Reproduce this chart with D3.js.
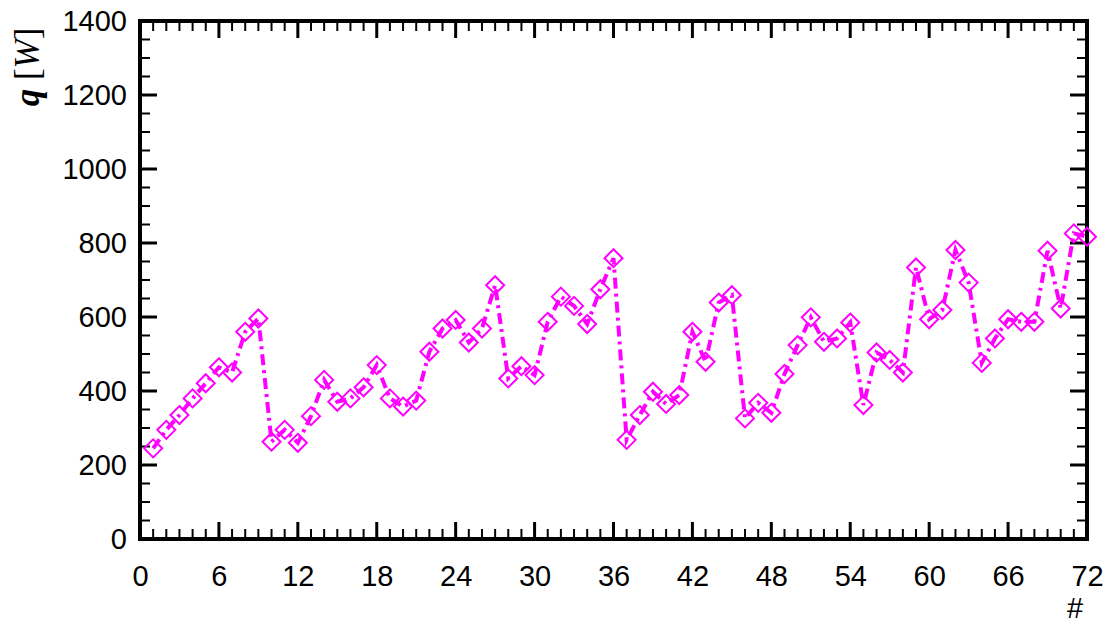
<!DOCTYPE html>
<html>
<head>
<meta charset="utf-8">
<script src="https://cdn.jsdelivr.net/npm/d3@7"></script>
<style>
  body { margin: 0; background: #fff; }
  svg { display: block; }
</style>
</head>
<body>
<div id="chart"></div>
<script>
// data
var runs = d3.range(1, 73);
var heat = [245, 295, 335, 380, 421, 464, 450, 560, 596, 263,
            295, 260, 332, 430, 371, 380, 410, 470, 380, 358,
            374, 506, 569, 592, 531, 569, 686, 434, 467, 443,
            587, 655, 630, 581, 675, 759, 268, 335, 398, 365,
            389, 560, 479, 639, 659, 326, 368, 341, 446, 524,
            599, 533, 542, 585, 362, 504, 484, 450, 734, 594,
            619, 781, 693, 476, 542, 594, 587, 587, 779, 623,
            826, 817];
var xTicks = [0, 6, 12, 18, 24, 30, 36, 42, 48, 54, 60, 66, 72];
var yTicks = [0, 200, 400, 600, 800, 1000, 1200, 1400];

var margin = {top: 21, right: 23, bottom: 87, left: 140},
    width = 1110 - margin.left - margin.right,
    height = 626 - margin.top - margin.bottom;

var svg = d3.select("#chart")
  .append("svg")
    .attr("width", 1110)
    .attr("height", 626)
  .append("g")
    .attr("transform", "translate(" + margin.left + "," + margin.top + ")");

var x = d3.scaleLinear().domain([0, 72]).range([0, width]);
var y = d3.scaleLinear().domain([0, 1400]).range([height, 0]);

var minorX = d3.range(0, 73, 1);
var minorY = d3.range(0, 1401, 50);
var big = 17, small = 10;

// ticks pointing inward on all four sides
var tg = svg.append("g").attr("stroke", "#000");
tg.selectAll(".xb").data(minorX).enter().append("line")
  .attr("x1", d => x(d)).attr("x2", d => x(d))
  .attr("y1", height).attr("y2", d => height - (d % 6 == 0 ? big : small))
  .attr("stroke-width", d => d % 6 == 0 ? 3 : 2);
tg.selectAll(".xt").data(minorX).enter().append("line")
  .attr("x1", d => x(d)).attr("x2", d => x(d))
  .attr("y1", 0).attr("y2", d => (d % 6 == 0 ? big : small))
  .attr("stroke-width", d => d % 6 == 0 ? 3 : 2);
tg.selectAll(".yl").data(minorY).enter().append("line")
  .attr("y1", d => y(d)).attr("y2", d => y(d))
  .attr("x1", 0).attr("x2", d => (d % 200 == 0 ? big : small))
  .attr("stroke-width", d => d % 200 == 0 ? 3 : 2);
tg.selectAll(".yr").data(minorY).enter().append("line")
  .attr("y1", d => y(d)).attr("y2", d => y(d))
  .attr("x1", width).attr("x2", d => width - (d % 200 == 0 ? big : small))
  .attr("stroke-width", d => d % 200 == 0 ? 3 : 2);

// frame
svg.append("rect")
  .attr("width", width).attr("height", height)
  .attr("fill", "none").attr("stroke", "#000").attr("stroke-width", 4);

// tick labels through the axis generators
var xAxis = svg.append("g")
  .attr("transform", "translate(0," + height + ")")
  .call(d3.axisBottom(x).tickValues(xTicks).tickFormat(d3.format("d")).tickSize(0).tickPadding(26));
var yAxis = svg.append("g")
  .call(d3.axisLeft(y).tickValues(yTicks).tickFormat(d3.format("d")).tickSize(0).tickPadding(13));
[xAxis, yAxis].forEach(function(a) {
  a.select(".domain").remove();
  a.selectAll("text")
    .style("font-family", "Arial, 'Liberation Sans', sans-serif")
    .style("font-size", "29px")
    .attr("fill", "#000");
});

// series
var pts = runs.map(function(r, i) { return {x: r, y: heat[i]}; });

svg.append("g").selectAll("path.mk").data(pts).enter().append("path")
  .attr("d", "M0,-9L9,0L0,9L-9,0Z")
  .attr("transform", d => "translate(" + x(d.x) + "," + y(d.y) + ")")
  .attr("fill", "none")
  .attr("stroke", "#ff00ff")
  .attr("stroke-width", 2);

svg.append("path")
  .datum(pts)
  .attr("d", d3.line().x(d => x(d.x)).y(d => y(d.y)))
  .attr("fill", "none")
  .attr("stroke", "#ff00ff")
  .attr("stroke-width", 4)
  .attr("stroke-dasharray", "11,5,3,5");

// axis titles
svg.append("text")
  .attr("transform", "translate(-101,46) rotate(-90)")
  .attr("text-anchor", "middle")
  .style("font-family", "'Liberation Serif', 'Times New Roman', serif")
  .style("font-size", "35px")
  .html("<tspan font-weight='bold' font-style='italic'>q</tspan> [<tspan font-style='italic'>W</tspan>]");

svg.append("text")
  .attr("x", width - 12)
  .attr("y", height + 79)
  .attr("text-anchor", "middle")
  .style("font-family", "Arial, 'Liberation Sans', sans-serif")
  .style("font-size", "29px")
  .text("#");
</script>
</body>
</html>
